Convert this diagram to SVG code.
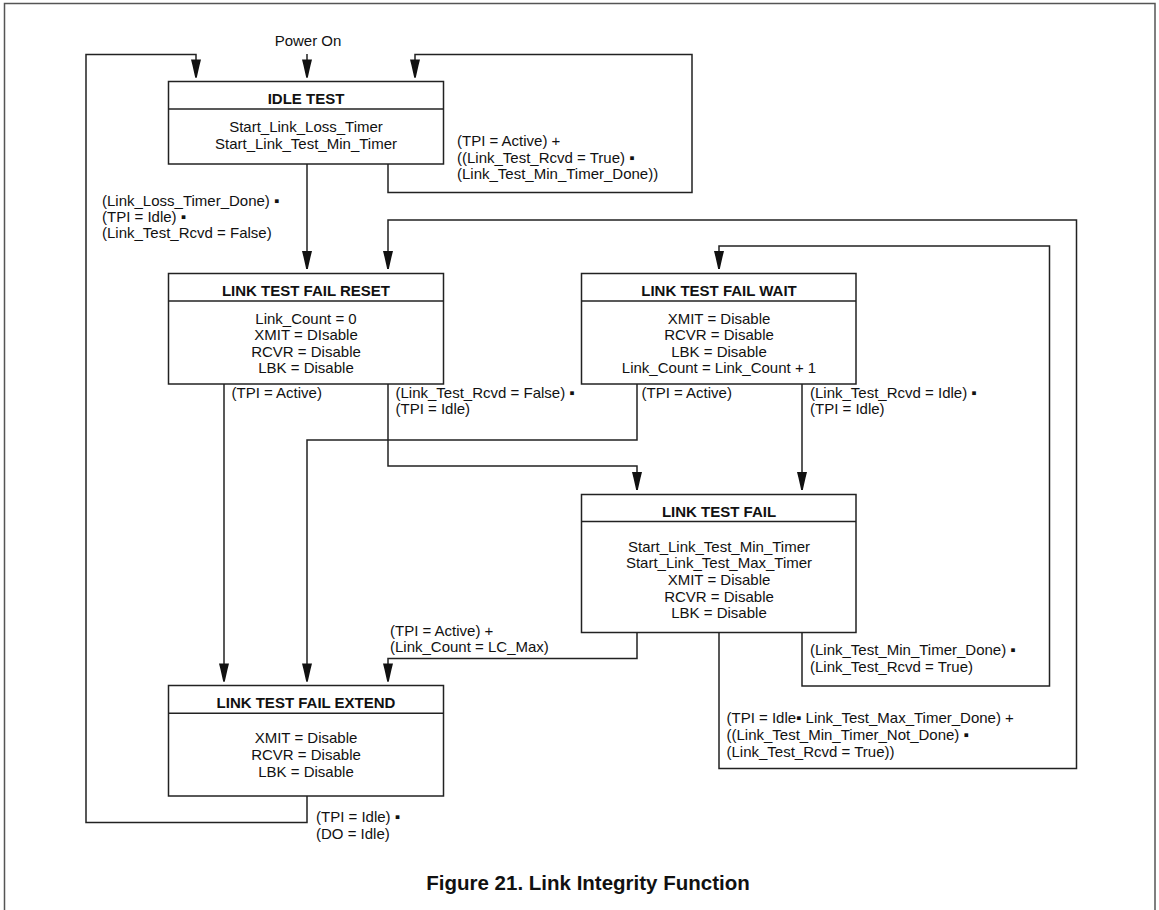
<svg xmlns="http://www.w3.org/2000/svg" width="1159" height="910" viewBox="0 0 1159 910">
<defs>
<marker id="ah" markerUnits="userSpaceOnUse" viewBox="-19 -6 20 12" markerWidth="20" markerHeight="12" refX="0" refY="0" orient="auto">
<path d="M-18,-5 L-18,5 L-12,3.5 L0,0.8 L0,-0.8 L-12,-3.5 Z" fill="#111"/>
</marker>
<style>
.box{fill:#fff;stroke:#222;stroke-width:1.5}
.div{stroke:#222;stroke-width:1.5}
.ttl{font-family:"Liberation Sans",Arial,sans-serif;font-weight:bold;font-size:15px;fill:#111;text-anchor:middle}
.bdy{font-family:"Liberation Sans",Arial,sans-serif;font-size:15px;fill:#111;text-anchor:middle}
.lbl{font-family:"Liberation Sans",Arial,sans-serif;font-size:15px;fill:#111}
.con{fill:none;stroke:#222;stroke-width:1.5;marker-end:url(#ah)}
.con2{fill:none;stroke:#222;stroke-width:1.5}
.frame{fill:none;stroke:#555;stroke-width:1.5}
.cap{font-family:"Liberation Sans",Arial,sans-serif;font-weight:bold;font-size:20.5px;fill:#111;text-anchor:middle}
</style>
</defs>
<rect width="1159" height="910" fill="#fff"/>
<path class="frame" d="M4.5,910 V3.5 H1155 V910"/>

<text class="lbl" x="308" y="46" text-anchor="middle">Power On</text>

<g id="connectors">
<path class="con" d="M307,54 V77.5"/>
<path class="con" d="M307,796 V822.5 H86 V54.5 H196 V77.5"/>
<path class="con" d="M388,164 V192.5 H692 V54.5 H415 V77.5"/>
<path class="con" d="M307,164 V269"/>
<path class="con" d="M719,632 V768.5 H1076.5 V220 H388 V269"/>
<path class="con" d="M802,632 V686 H1049.5 V246 H719 V269"/>
<path class="con" d="M224,384 V681.5"/>
<path class="con" d="M388,384 V466 H637 V490"/>
<path class="con" d="M637,384 V440 H307 V681.5"/>
<path class="con" d="M802,384 V490"/>
<path class="con" d="M637,632 V658.5 H388 V681.5"/>
</g>

<g id="labels">
<text class="lbl" x="457" y="146">(TPI = Active)  +</text>
<text class="lbl" x="457" y="162.7">((Link_Test_Rcvd = True) ▪</text>
<text class="lbl" x="457" y="179.4">(Link_Test_Min_Timer_Done))</text>

<text class="lbl" x="102" y="206">(Link_Loss_Timer_Done) ▪</text>
<text class="lbl" x="102" y="222">(TPI = Idle) ▪</text>
<text class="lbl" x="102" y="238">(Link_Test_Rcvd = False)</text>

<text class="lbl" x="231.5" y="398">(TPI = Active)</text>

<text class="lbl" x="395.5" y="398">(Link_Test_Rcvd = False) ▪</text>
<text class="lbl" x="395.5" y="414">(TPI = Idle)</text>

<text class="lbl" x="641.5" y="398">(TPI = Active)</text>

<text class="lbl" x="810" y="398">(Link_Test_Rcvd = Idle) ▪</text>
<text class="lbl" x="810" y="414">(TPI = Idle)</text>

<text class="lbl" x="390" y="636">(TPI = Active) +</text>
<text class="lbl" x="390" y="652">(Link_Count = LC_Max)</text>

<text class="lbl" x="810" y="655">(Link_Test_Min_Timer_Done) ▪</text>
<text class="lbl" x="810" y="671.7">(Link_Test_Rcvd = True)</text>

<text class="lbl" x="726.5" y="723.3">(TPI = Idle▪ Link_Test_Max_Timer_Done) +</text>
<text class="lbl" x="726.5" y="740">((Link_Test_Min_Timer_Not_Done) ▪</text>
<text class="lbl" x="726.5" y="756.7">(Link_Test_Rcvd = True))</text>

<text class="lbl" x="316" y="822">(TPI = Idle) ▪</text>
<text class="lbl" x="316" y="838.5">(DO = Idle)</text>
</g>

<g id="idle-test">
<rect class="box" x="168.5" y="81.5" width="275" height="82.5"/>
<line class="div" x1="168.5" y1="109" x2="443.5" y2="109"/>
<text class="ttl" x="306" y="104">IDLE TEST</text>
<text class="bdy" x="306" y="132.3">Start_Link_Loss_Timer</text>
<text class="bdy" x="306" y="149">Start_Link_Test_Min_Timer</text>
</g>

<g id="link-test-fail-reset">
<rect class="box" x="168.5" y="273.5" width="275" height="110.5"/>
<line class="div" x1="168.5" y1="301" x2="443.5" y2="301"/>
<text class="ttl" x="306" y="295.5">LINK TEST FAIL RESET</text>
<text class="bdy" x="306" y="324">Link_Count = 0</text>
<text class="bdy" x="306" y="340.3">XMIT = DIsable</text>
<text class="bdy" x="306" y="356.7">RCVR = Disable</text>
<text class="bdy" x="306" y="373">LBK = Disable</text>
</g>

<g id="link-test-fail-wait">
<rect class="box" x="581.5" y="273.5" width="274.5" height="110.5"/>
<line class="div" x1="581.5" y1="301" x2="856" y2="301"/>
<text class="ttl" x="719" y="295.5">LINK TEST FAIL WAIT</text>
<text class="bdy" x="719" y="323.5">XMIT = Disable</text>
<text class="bdy" x="719" y="340">RCVR = Disable</text>
<text class="bdy" x="719" y="356.7">LBK = Disable</text>
<text class="bdy" x="719" y="373.3">Link_Count = Link_Count + 1</text>
</g>

<g id="link-test-fail">
<rect class="box" x="581.5" y="494.5" width="274.5" height="138"/>
<line class="div" x1="581.5" y1="521.5" x2="856" y2="521.5"/>
<text class="ttl" x="719" y="516.7">LINK TEST FAIL</text>
<text class="bdy" x="719" y="551.7">Start_Link_Test_Min_Timer</text>
<text class="bdy" x="719" y="568.3">Start_Link_Test_Max_Timer</text>
<text class="bdy" x="719" y="585">XMIT = Disable</text>
<text class="bdy" x="719" y="601.7">RCVR = Disable</text>
<text class="bdy" x="719" y="618.3">LBK = Disable</text>
</g>

<g id="link-test-fail-extend">
<rect class="box" x="168.5" y="685.5" width="275" height="110.5"/>
<line class="div" x1="168.5" y1="713.3" x2="443.5" y2="713.3"/>
<text class="ttl" x="306" y="707.5">LINK TEST FAIL EXTEND</text>
<text class="bdy" x="306" y="743.3">XMIT = Disable</text>
<text class="bdy" x="306" y="760">RCVR = Disable</text>
<text class="bdy" x="306" y="776.7">LBK = Disable</text>
</g>

<text class="cap" x="588" y="890">Figure 21. Link Integrity Function</text>
</svg>
